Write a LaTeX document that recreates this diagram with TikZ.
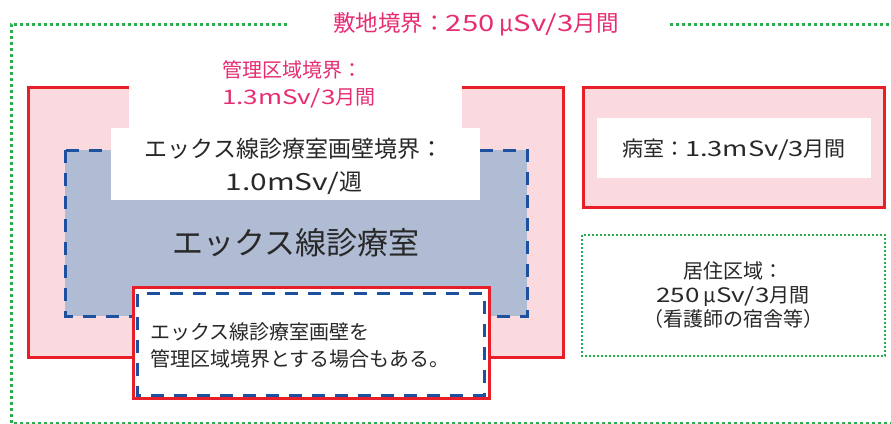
\documentclass[tikz,border=0pt]{standalone}
\usepackage{fontspec}
\setmainfont{Noto Sans CJK JP}
\newfontfamily\latw[FakeStretch=1.3]{Noto Sans CJK JP}
\newcommand\wlat[1]{{\latw #1}}
\definecolor{bred}{RGB}{232,30,40}
\definecolor{bpink}{RGB}{250,218,222}
\definecolor{bblue}{RGB}{30,80,160}
\definecolor{bbluefill}{RGB}{175,188,212}
\definecolor{bgreen}{RGB}{40,175,75}
\definecolor{tpink}{RGB}{230,45,115}
\definecolor{tdark}{RGB}{40,40,40}
\tikzset{
  redline/.style={draw=bred, line width=3pt},
  bluedash/.style={draw=bblue, line width=3pt, dash pattern=on 13pt off 10pt},
  greendot/.style={draw=bgreen, line width=3pt, dash pattern=on 3pt off 3pt},
  greendotsmall/.style={draw=bgreen, line width=2pt, dash pattern=on 2pt off 2pt},
  txt/.style={inner sep=0pt, text=tdark},
  ptxt/.style={inner sep=0pt, text=tpink},
}
\begin{document}
\begin{tikzpicture}[x=1pt,y=-1pt]
\useasboundingbox (0,0) rectangle (891,423);
\fill[white] (0,0) rectangle (891,423);

% outer site boundary (green dotted)
\coordinate (g1) at (287,24);
\coordinate (g2) at (11,24);
\coordinate (g3) at (11,423.5);
\coordinate (g4) at (900,423.5);
\coordinate (g5) at (670,24);
\coordinate (g6) at (900,24);
\draw[greendot] (g1) -- (g2) -- (g3) -- (g4);
\draw[greendot] (g5) -- (g6);
\node[ptxt, font=\fontsize{22.5}{26}\selectfont] (title) at (476,24)
  {敷地境界：\wlat{250}\hspace{5pt}μ\wlat{Sv/3}月間};

% controlled area (pink, red border)
\fill[bpink] (28,87) rectangle (563,357);
\coordinate (k1) at (129,87);
\coordinate (k2) at (28,87);
\coordinate (k3) at (28,357);
\coordinate (k4) at (563,357);
\coordinate (k5) at (563,87);
\coordinate (k6) at (462,87);
\draw[redline] (k1) -- (k2) -- (k3) -- (k4) -- (k5) -- (k6);
\fill[white] (129,80) rectangle (462,130);
\node[ptxt, font=\fontsize{20}{27}\selectfont, align=left, anchor=west] (klabel) at (222,84)
  {管理区域境界：\\\wlat{1.3mSv/3}月間};

% X-ray room (blue, dashed)
\fill[bbluefill] (65,150) rectangle (527,316);
\draw[bluedash] (65,150) rectangle (527,316);
\fill[white] (111,128) rectangle (480,200);
\node[txt, font=\fontsize{23}{33}\selectfont, align=center] (wlabel) at (294,166)
  {エックス線診療室画壁境界：\\\wlat{1.0mSv/}週};
\node[txt, font=\fontsize{31}{36}\selectfont] (room) at (296,243) {エックス線診療室};

% note box
\fill[white] (133,287.5) rectangle (489,398.5);
\draw[redline] (133,287.5) rectangle (489,398.5);
\draw[bluedash] (137.5,293.5) rectangle (484,395);
\node[txt, font=\fontsize{20}{27}\selectfont, align=left, anchor=west] (note) at (150,345)
  {エックス線診療室画壁を\\管理区域境界とする場合もある。};

% ward
\fill[bpink] (583,87) rectangle (884,207);
\draw[redline] (583,87) rectangle (884,207);
\fill[white] (597,118) rectangle (871,178);
\node[txt, font=\fontsize{21}{25}\selectfont] (ward) at (734,150)
  {病室：\wlat{1.3mSv/3}月間};

% residential area
\draw[greendotsmall] (582,235) rectangle (885,356);
\node[txt, font=\fontsize{20}{24}\selectfont, align=center] (res) at (733,295)
  {居住区域：\\\wlat{250}\hspace{4pt}μ\wlat{Sv/3}月間\\（看護師の宿舎等）};
\end{tikzpicture}
\end{document}
